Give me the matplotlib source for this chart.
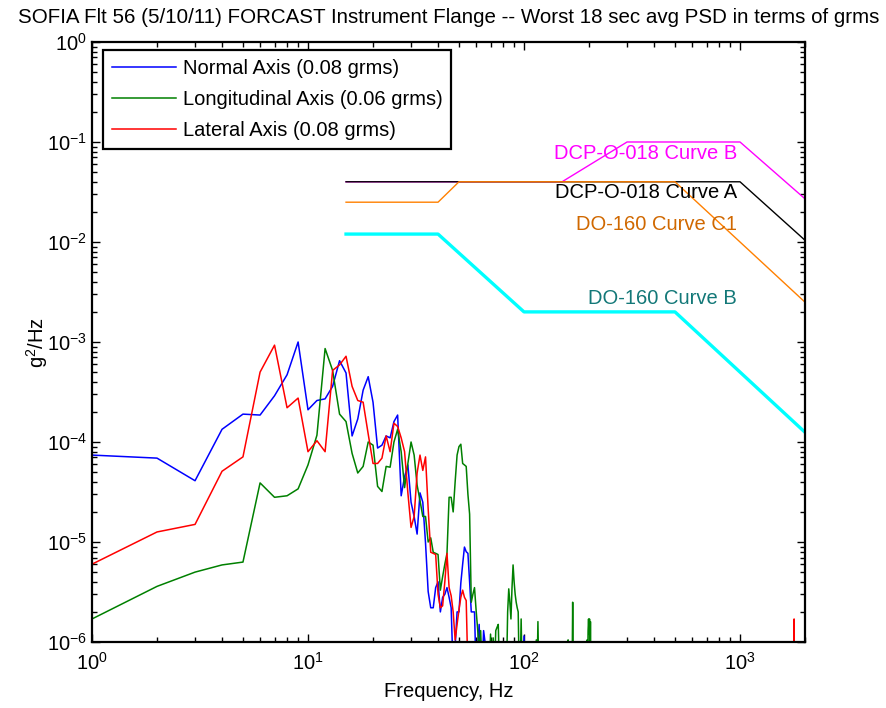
import numpy as np
import matplotlib
matplotlib.use('Agg')
import matplotlib.pyplot as plt
from matplotlib.ticker import NullFormatter

plt.rcParams['font.family'] = ['Liberation Sans', 'DejaVu Sans']
plt.rcParams['mathtext.fontset'] = 'custom'
plt.rcParams['mathtext.rm'] = 'Liberation Sans'

FLOOR = 5e-7  # below the plotted range, line runs off the bottom

# Normal axis (blue), 1 Hz steps from 1 Hz
f_norm = list(range(1, 68)) + [99, 100, 101]
psd_norm = [7.4e-5, 6.9e-5, 4.1e-5, 1.34e-4, 1.9e-4, 1.86e-4, 2.9e-4, 4.7e-4, 1.0e-3, 2.1e-4,
            2.6e-4, 2.7e-4, 3.6e-4, 6.5e-4, 4.9e-4, 1.15e-4, 1.7e-4, 3.3e-4, 4.5e-4, 2.5e-4,
            8.7e-5, 9.3e-5, 1.15e-4, 1.1e-4, 1.6e-4, 1.86e-4, 2.9e-5, 4.5e-5, 5.9e-5, 2.5e-5,
            1.8e-5, 1.2e-5, 3.1e-5, 2.5e-5, 9.8e-6, 3.2e-6, 2.2e-6, 2.2e-6, 3.5e-6, 4.0e-6,
            2.0e-6, 2.8e-6, 3.0e-6, 3.5e-6, 2.8e-6, 2.2e-6, FLOOR, 9e-7, 2.0e-6, 2.0e-6,
            3.9e-6, 6.0e-6, 8.9e-6, 8.0e-6, 7.7e-6, 4.0e-6, 2.0e-6, 2.0e-6, 2.0e-6, FLOOR,
            9e-7, 1.5e-6, FLOOR, FLOOR, 1.3e-6, 1.0e-6, FLOOR,
            FLOOR, 1.15e-6, FLOOR]

# Longitudinal axis (green)
f_long = (list(range(1, 65)) + [66, 69, 70, 71, 72, 73, 74, 75, 76, 77]
          + list(range(83, 99)) + [113, 114, 115, 116, 117, 159, 160, 161, 167, 168, 169]
          + list(range(194, 205)))
psd_long = [1.7e-6, 3.6e-6, 5.0e-6, 5.9e-6, 6.3e-6, 3.9e-5, 2.8e-5, 2.9e-5, 3.4e-5, 5.9e-5,
            1.17e-4, 8.6e-4, 5.2e-4, 1.9e-4, 1.6e-4, 7.7e-5, 4.9e-5, 5.7e-5, 1.0e-4, 9.3e-5,
            3.6e-5, 3.2e-5, 5.7e-5, 5.6e-5, 1.0e-4, 1.34e-4, 8.0e-5, 3.5e-5, 6.1e-5, 1.0e-4,
            7.4e-5, 3.7e-5, 2.6e-5, 1.8e-5, 1.8e-5, 1.0e-5, 1.1e-5, 7.9e-6, 7.7e-6, 7.5e-6,
            3.3e-6, 4.5e-6, 6.0e-6, 7.7e-6, 2.8e-5, 2.8e-5, 2.0e-5, 4.0e-5, 7.4e-5, 9.0e-5,
            9.5e-5, 6.1e-5, 5.9e-5, 5.7e-5, 3.0e-5, 1.9e-5, 2.5e-6, 3.0e-6, 3.5e-6, 2.1e-6,
            1.35e-6, 8e-7, 1.3e-6, FLOOR,
            FLOOR, FLOOR, 1.2e-6, FLOOR, 1.1e-6, FLOOR, 1.3e-6, 1.4e-6, 1.5e-6, FLOOR,
            FLOOR, 2.0e-6, 3.4e-6, 2.5e-6, 1.7e-6, 3.5e-6, 5.9e-6, 4.0e-6, 3.0e-6, 2.5e-6,
            2.2e-6, 2.0e-6, FLOOR, FLOOR, 1.7e-6, FLOOR,
            FLOOR, 1.05e-6, FLOOR, 1.6e-6, FLOOR, FLOOR, 1.05e-6, FLOOR, FLOOR, 2.5e-6, FLOOR,
            FLOOR, 8e-7, 1.05e-6, FLOOR, 1.3e-6, 1.7e-6, 1.2e-6, 1.7e-6, FLOOR, 1.6e-6, FLOOR]

# Lateral axis (red)
f_lat = list(range(1, 56)) + [1779, 1780, 1781]
psd_lat = [6.0e-6, 1.26e-5, 1.5e-5, 5.1e-5, 7.1e-5, 5.0e-4, 9.3e-4, 2.2e-4, 2.75e-4, 8.0e-5,
           1.03e-4, 8.0e-5, 5.2e-4, 5.9e-4, 7.2e-4, 3.6e-4, 2.6e-4, 2.5e-4, 1.2e-4, 6.1e-5,
           6.1e-5, 6.9e-5, 1.15e-4, 8.0e-5, 1.54e-4, 1.43e-4, 1.1e-4, 8.0e-5, 3.1e-5, 1.4e-5,
           1.8e-5, 4.9e-5, 7.4e-5, 5.2e-5, 7.1e-5, 2.15e-5, 7.9e-6, 7.7e-6, 7.5e-6, 3.0e-6,
           2.2e-6, 2.3e-6, 4.0e-6, 7.7e-6, 3.5e-6, 2.9e-6, 2.0e-6, 1.05e-6, 1.5e-6, 2.1e-6,
           2.8e-6, 3.3e-6, 2.8e-6, 2.6e-6, FLOOR,
           FLOOR, 1.7e-6, FLOOR]

# specification curves
f_dcpb = [15, 150, 300, 1000, 2000]
g_dcpb = [0.04, 0.04, 0.1, 0.1, 0.027]
f_dcpa = [15, 1000, 2000]
g_dcpa = [0.04, 0.04, 0.0104]
f_c1 = [15, 40, 50, 500, 2000]
g_c1 = [0.025, 0.025, 0.04, 0.04, 0.0025]
f_b = [15, 40, 100, 500, 2000]
g_b = [0.012, 0.012, 0.002, 0.002, 1.25e-4]

fig = plt.figure(figsize=(8.87, 7.08), dpi=100)
ax = fig.add_axes([0.1037, 0.0932, 0.8039, 0.8475])

ax.loglog(f_norm, psd_norm, color='#0000ff', lw=1.1, label='Normal Axis (0.08 grms)')
ax.loglog(f_long, psd_long, color='#008000', lw=1.1, label='Longitudinal Axis (0.06 grms)')
ax.loglog(f_lat, psd_lat, color='#ff0000', lw=1.1, label='Lateral Axis (0.08 grms)')

ax.loglog(f_dcpb, g_dcpb, color='#ff00ff', lw=1.0)
ax.loglog(f_dcpa, g_dcpa, color='black', lw=1.0)
ax.loglog(f_c1, g_c1, color='#ff8000', lw=1.0)
ax.loglog(f_b, g_b, color='#00ffff', lw=2.4)

fs = 14.5
ax.text(970, 0.0776, 'DCP-O-018 Curve B', color='#ff00ff', ha='right', va='center', fontsize=fs)
ax.text(970, 0.031, 'DCP-O-018 Curve A', color='black', ha='right', va='center', fontsize=fs)
ax.text(970, 0.0148, 'DO-160 Curve C1', color='#d06800', ha='right', va='center', fontsize=fs)
ax.text(970, 0.00275, 'DO-160 Curve B', color='#137878', ha='right', va='center', fontsize=fs)

ax.set_xlim(1, 2000)
ax.set_ylim(1e-6, 1)
ax.xaxis.set_minor_formatter(NullFormatter())
ax.yaxis.set_minor_formatter(NullFormatter())
ax.tick_params(which='both', direction='in', top=True, right=True, labelsize=fs)
ax.tick_params(which='major', length=6, width=1)
ax.tick_params(which='minor', length=3.5, width=1)
ax.tick_params(axis='x', which='major', pad=7)
for s in ax.spines.values():
    s.set_linewidth(1.6)

ax.set_xlabel('Frequency, Hz', fontsize=fs, labelpad=6)
ax.set_ylabel('g$^2$/Hz', fontsize=fs, labelpad=-2)
ax.set_title('SOFIA Flt 56 (5/10/11) FORCAST Instrument Flange -- Worst 18 sec avg PSD in terms of grms',
             fontsize=14.8, pad=14)

leg = ax.legend(loc='upper left', bbox_to_anchor=(0.0154, 0.987), fontsize=fs, fancybox=False,
                edgecolor='black', framealpha=1, handlelength=3.2, labelspacing=0.6,
                borderpad=0.45, handletextpad=0.3, borderaxespad=0)
leg.get_frame().set_linewidth(1.6)

fig.savefig('out.png', dpi=100)
